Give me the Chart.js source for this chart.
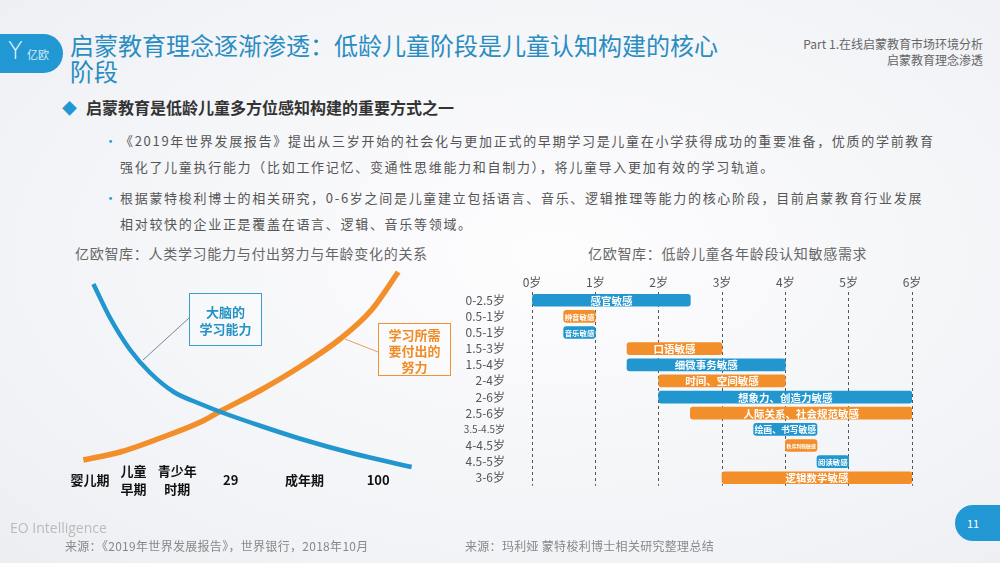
<!DOCTYPE html>
<html>
<head>
<meta charset="utf-8">
<script src="https://cdn.jsdelivr.net/npm/chart.js@4"></script>
<style>
  html,body{margin:0;padding:0;}
  body{width:1000px;height:563px;overflow:hidden;font-family:"Noto Sans CJK SC","Noto Sans",sans-serif;}
  #slide{position:relative;width:1000px;height:563px;overflow:hidden;
    background:radial-gradient(ellipse at 55% 45%, #fdfdfe 0%, #f3f4f7 65%, #eceef2 100%);}
  .abs{position:absolute;white-space:nowrap;}
  #logo{left:0;top:34px;width:63px;height:39px;background:#2198d3;border-radius:0 20px 20px 0;color:#fff;}
  #logo .y{position:absolute;left:8px;top:3px;font-size:24px;font-family:"DejaVu Sans";font-weight:300;color:#e8f5fb;}
  #logo .t{position:absolute;left:27px;top:12px;font-size:11px;color:#d8eef8;}
  #title{left:70px;top:32px;font-size:24px;line-height:26px;color:#2a8dc2;}
  #part{right:17px;top:36px;font-size:12px;line-height:16px;color:#666;text-align:right;}
  #heading{left:62px;top:95px;font-size:16px;font-weight:bold;color:#333;}
  #heading .d{color:#2198d3;font-size:15px;margin-right:9px;}
  .para{left:104px;font-size:13px;letter-spacing:1.7px;line-height:25.5px;color:#555;}
  .para .b{color:#2198d3;display:inline-block;width:16px;letter-spacing:0;}
  .para .ind{padding-left:16px;}
  .ctitle{font-size:14px;letter-spacing:0.7px;color:#666;top:243px;}
  .src{font-size:12px;color:#888;top:537px;letter-spacing:0.3px;}
  #eo{left:10px;top:518px;font-size:14px;color:#bbb;font-family:"Open Sans",sans-serif;}
  #pg{left:955px;top:505px;width:45px;height:36px;background:#2198d3;border-radius:18px 0 0 18px;color:#fff;font-size:11px;line-height:36px;padding-left:12px;box-sizing:border-box;}
  .box{position:absolute;box-sizing:border-box;text-align:center;font-weight:bold;font-size:13px;background:rgba(255,255,255,0.25);}
  #boxA{left:189px;top:293px;width:73px;height:53px;border:1px solid #3c9fcb;color:#2592c6;line-height:17px;padding-top:9px;}
  #boxB{left:378px;top:323px;width:73px;height:53px;border:1px solid #f0922e;color:#f08c25;line-height:16px;padding-top:3px;}
  canvas{position:absolute;}
</style>
</head>
<body>
<div id="slide">
  <div id="logo" class="abs"><span class="y">Y</span><span class="t">亿欧</span></div>
  <div id="title" class="abs">启蒙教育理念逐渐渗透：低龄儿童阶段是儿童认知构建的核心<br>阶段</div>
  <div id="part" class="abs">Part 1.在线启蒙教育市场环境分析<br>启蒙教育理念渗透</div>
  <div id="heading" class="abs"><span class="d">◆</span>启蒙教育是低龄儿童多方位感知构建的重要方式之一</div>
  <div class="abs para" style="top:128px;"><span class="b">•</span>《2019年世界发展报告》提出从三岁开始的社会化与更加正式的早期学习是儿童在小学获得成功的重要准备，优质的学前教育<br><span class="ind">强化了儿童执行能力（比如工作记忆、变通性思维能力和自制力），将儿童导入更加有效的学习轨道。</span></div>
  <div class="abs para" style="top:185px;"><span class="b">•</span>根据蒙特梭利博士的相关研究，0-6岁之间是儿童建立包括语言、音乐、逻辑推理等能力的核心阶段，目前启蒙教育行业发展<br><span class="ind">相对较快的企业正是覆盖在语言、逻辑、音乐等领域。</span></div>

  <div class="abs ctitle" style="left:75px;">亿欧智库：人类学习能力与付出努力与年龄变化的关系</div>
  <div class="abs ctitle" style="left:588px;">亿欧智库：低龄儿童各年龄段认知敏感需求</div>

  <canvas id="curve" width="380" height="250" style="left:60px;top:262px;"></canvas>
  <svg class="abs" style="left:0;top:0;" width="1000" height="563">
    <line x1="189" y1="318" x2="143" y2="360" stroke="#6e8a96" stroke-width="1"/>
    <line x1="378" y1="352" x2="345" y2="339" stroke="#e7a25a" stroke-width="1"/>
  </svg>
  <div id="boxA" class="box">大脑的<br>学习能力</div>
  <div id="boxB" class="box">学习所需<br>要付出的<br>努力</div>

  <canvas id="gantt" width="475" height="262" style="left:455px;top:258px;"></canvas>

  <div id="eo" class="abs">EO Intelligence</div>
  <div class="abs src" style="left:65px;">来源：《2019年世界发展报告》，世界银行，2018年10月</div>
  <div class="abs src" style="left:465px;">来源：玛利娅 蒙特梭利博士相关研究整理总结</div>
  <div id="pg" class="abs">11</div>
</div>
<script>
// ---------- Left chart data ----------
const lifeStages = ['婴儿期', ['儿童', '早期'], ['青少年', '时期'], '29', '成年期', '100'];
const stageTickPos = [3, 16, 29, 45, 67, 89];
const abilityX = [4, 9, 15, 21, 28, 36, 42, 54, 66, 81, 99];
const abilityY = [93, 76, 60, 48.5, 39, 33, 29, 22, 15.5, 8.5, 1.5];
const effortX = [1, 12, 24, 36, 42, 54, 66, 78, 87, 95];
const effortY = [5, 9, 16, 24, 29.5, 40, 52, 66, 80, 99];

// ---------- Right chart data ----------
const ageLabels = ['0-2.5岁', '0.5-1岁', '0.5-1岁', '1.5-3岁', '1.5-4岁', '2-4岁', '2-6岁', '2.5-6岁', '3.5-4.5岁', '4-4.5岁', '4.5-5岁', '3-6岁'];
const sensitivityNames = ['感官敏感', '辨音敏感', '音乐敏感', '口语敏感', '细微事务敏感', '时间、空间敏感', '想象力、创造力敏感', '人际关系、社会规范敏感', '绘画、书写敏感', '秩序判断敏感', '阅读敏感', '逻辑数学敏感'];
const startAge = [0, 0.5, 0.5, 1.5, 1.5, 2, 2, 2.5, 3.5, 4, 4.5, 3];
const endAge = [2.5, 1, 1, 3, 4, 4, 6, 6, 4.5, 4.5, 5, 6];
const barGroup = ['blue', 'orange', 'blue', 'orange', 'blue', 'orange', 'blue', 'orange', 'blue', 'orange', 'blue', 'orange'];
const ageTicks = [0, 1, 2, 3, 4, 5, 6];

const BLUE = '#2196cf';
const ORANGE = '#f28f2b';
const CJK = '"Noto Sans CJK SC", "Noto Sans", sans-serif';

// ---------- Left chart ----------
new Chart(document.getElementById('curve'), {
  type: 'line',
  data: {
    datasets: [
      { label: '大脑的学习能力', data: abilityX.map((x, i) => ({ x, y: abilityY[i] })),
        borderColor: BLUE, borderWidth: 4.5, pointRadius: 0, cubicInterpolationMode: 'monotone', clip: false, fill: false },
      { label: '学习所需要付出的努力', data: effortX.map((x, i) => ({ x, y: effortY[i] })),
        borderColor: ORANGE, borderWidth: 5.5, pointRadius: 0, cubicInterpolationMode: 'monotone', clip: false, fill: false }
    ]
  },
  options: {
    responsive: false, animation: false,
    layout: { padding: { left: 20, right: 25, top: 8, bottom: 0 } },
    plugins: { legend: { display: false }, tooltip: { enabled: false } },
    scales: {
      x: {
        type: 'linear', min: 0, max: 100,
        afterBuildTicks: s => { s.ticks = stageTickPos.map(v => ({ value: v })); },
        afterFit: s => { s.height = 50; },
        grid: { display: false, drawTicks: false }, border: { display: false },
        ticks: {
          autoSkip: false, maxRotation: 0, crossAlign: 'center', padding: 9,
          color: '#111', font: { family: CJK, size: 13, weight: 'bold', lineHeight: 1.38 },
          callback: (v, i) => lifeStages[i]
        }
      },
      y: { type: 'linear', min: 4, max: 100, display: false }
    }
  }
});

// ---------- Right chart (floating bars) ----------
const barLabelPlugin = {
  id: 'barLabels',
  afterDatasetsDraw(chart) {
    const ctx = chart.ctx;
    const meta = chart.getDatasetMeta(0);
    ctx.save();
    ctx.fillStyle = '#fff';
    ctx.textAlign = 'center';
    ctx.textBaseline = 'middle';
    meta.data.forEach((bar, i) => {
      const left = Math.min(bar.x, bar.base), right = Math.max(bar.x, bar.base);
      const w = right - left;
      const name = sensitivityNames[i];
      const size = Math.min(10.5, (w - 2) / name.length);
      ctx.font = 'bold ' + size.toFixed(1) + 'px ' + CJK;
      ctx.fillText(name, (left + right) / 2, bar.y + 0.5);
    });
    ctx.restore();
  }
};

new Chart(document.getElementById('gantt'), {
  type: 'bar',
  data: {
    labels: ageLabels,
    datasets: [{
      data: startAge.map((s, i) => [s, endAge[i]]),
      backgroundColor: barGroup.map(g => g === 'blue' ? BLUE : ORANGE),
      borderRadius: 3, borderSkipped: false, barThickness: 12
    }]
  },
  options: {
    indexAxis: 'y', responsive: false, animation: false,
    layout: { padding: { left: 0, right: 18, top: 0, bottom: 3 } },
    plugins: { legend: { display: false }, tooltip: { enabled: false } },
    scales: {
      x: {
        type: 'linear', position: 'top', min: 0, max: 6,
        afterBuildTicks: s => { s.ticks = ageTicks.map(v => ({ value: v })); },
        afterFit: s => { s.height = 21; },
        grid: { color: '#555', lineWidth: 1, drawTicks: false },
        border: { display: false, dash: [3, 3] },
        ticks: { color: '#555', padding: 3, font: { family: CJK, size: 12 }, callback: v => v + '岁' }
      },
      y: {
        afterFit: s => { s.width = 77; },
        grid: { display: false, drawTicks: false }, border: { display: false },
        ticks: {
          color: '#555', padding: 27,
          font: c => ({ family: CJK, size: (ageLabels[c.index] || '').length > 6 ? 10 : 12 })
        }
      }
    }
  },
  plugins: [barLabelPlugin]
});
</script>
</body>
</html>
